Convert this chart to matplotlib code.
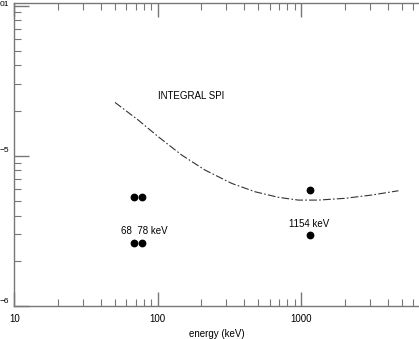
import numpy as np
import matplotlib
matplotlib.use("Agg")
import matplotlib.pyplot as plt
from matplotlib.ticker import LogLocator, NullFormatter, FixedLocator

# Data
line_energy = [68, 78, 68, 78, 1154, 1154]
line_flux = [5.3e-6, 5.3e-6, 2.63e-6, 2.63e-6, 5.9e-6, 2.95e-6]

spi_energy = [50.3, 73.1, 100.8, 146.7, 213.3, 327, 475.8, 691.5, 953,
              1314, 2016, 3094, 4742]
spi_sens = [2.265e-5, 1.727e-5, 1.338e-5, 1.011e-5, 8.03e-6, 6.55e-6, 5.76e-6,
            5.29e-6, 5.07e-6, 5.07e-6, 5.21e-6, 5.48e-6, 5.85e-6]

x_ticks = [10, 100, 1000]
x_tick_labels = ["10", "100", "1000"]

plt.rcParams['font.family'] = ['Liberation Sans', 'DejaVu Sans']

W, H = 419, 339
fig = plt.figure(figsize=(W / 100, H / 100), dpi=100)
ax = fig.add_axes([14.3 / W, 33 / H, 1 - 14.3 / W, (306 - 3) / H])

ax.set_xscale('log')
ax.set_yscale('log')
ax.set_xlim(10, 6600)
ax.set_ylim(1e-6, 1.04e-4)

ax.plot(spi_energy, spi_sens, color='#333333', lw=0.8,
        linestyle=(0, (7, 2, 1.5, 2)))
ax.plot(line_energy, line_flux, 'o', color='black', ms=4.6, mec='black')

ax.text(100, 2.51e-5, "INTEGRAL SPI", fontsize=7, va='center', ha='left')
ax.text(55.4, 3.16e-6, "68  78 keV", fontsize=7, va='center', ha='left')
ax.text(824, 3.5e-6, "1154 keV", fontsize=7, va='center', ha='left')

ax.set_xticks(x_ticks)
ax.set_xticklabels(x_tick_labels, fontsize=7)
ax.xaxis.set_minor_locator(LogLocator(base=10, subs=np.arange(2, 10)))
ax.xaxis.set_minor_formatter(NullFormatter())
ax.yaxis.set_major_locator(FixedLocator([1e-6, 1e-5, 1e-4]))
ax.yaxis.set_minor_locator(LogLocator(base=10, subs=np.arange(2, 10)))
ax.yaxis.set_major_formatter(NullFormatter())
ax.yaxis.set_minor_formatter(NullFormatter())

spine_c = '#777777'
for s in ['left', 'bottom', 'top']:
    ax.spines[s].set_color(spine_c)
    ax.spines[s].set_linewidth(1.0)
ax.spines['right'].set_visible(False)

ax.tick_params(axis='x', which='both', direction='in', top=True, bottom=True,
               color=spine_c, labelsize=7, pad=6)
ax.tick_params(axis='x', which='major', length=10, width=1)
ax.tick_params(axis='x', which='minor', length=5, width=0.8)
ax.tick_params(axis='y', which='both', direction='in', left=True, right=False,
               color=spine_c)
ax.tick_params(axis='y', which='major', length=11, width=1)
ax.tick_params(axis='y', which='minor', length=5, width=0.8)

ax.set_xlabel("energy (keV)", fontsize=7, labelpad=4)
ax.xaxis.set_label_coords(0.5, -0.075)

# partially visible y tick labels (cropped at the figure edge)
fig.text(0 / W, 1 - 151 / H, "\u22125", fontsize=6, va='center', ha='left')
fig.text(0 / W, 1 - 301.5 / H, "\u22126", fontsize=6, va='center', ha='left')
fig.text(0 / W, 1 - 4 / H, "01", fontsize=6, va='center', ha='left')

fig.savefig("out.png", dpi=100)
